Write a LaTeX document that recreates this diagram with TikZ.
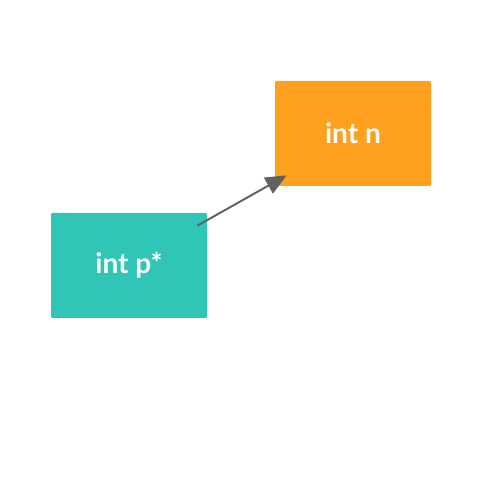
\documentclass[tikz,border=0pt]{standalone}
\usepackage{fontspec}
\setmainfont{Lato}
\usetikzlibrary{calc,arrows.meta}
\definecolor{tealbox}{HTML}{2FC6B7}
\definecolor{orangebox}{HTML}{FFA01E}
\definecolor{arrowgray}{HTML}{616161}
\tikzset{
  box/.style={rectangle, rounded corners=0.6pt, inner sep=0pt, minimum width=3.12cm, minimum height=2.1cm, text=white, font=\fontsize{16}{18}\selectfont\bfseries},
  link/.style={draw=arrowgray, line width=1.1pt, -{Triangle[length=0.42cm,width=0.36cm]}}
}
\begin{document}
\begin{tikzpicture}
\useasboundingbox (0,0) rectangle (10,10);
\node[box, fill=tealbox] (p) at (2.58,4.69) {int p*};
\node[box, fill=orangebox] (n) at (7.06,7.33) {int n};
\coordinate (s) at ($(p.north east)+(-0.2,-0.26)$);
\coordinate (e) at ($(n.south west)+(0.24,0.22)$);
\draw[link] (s) -- (e);
\end{tikzpicture}
\end{document}
